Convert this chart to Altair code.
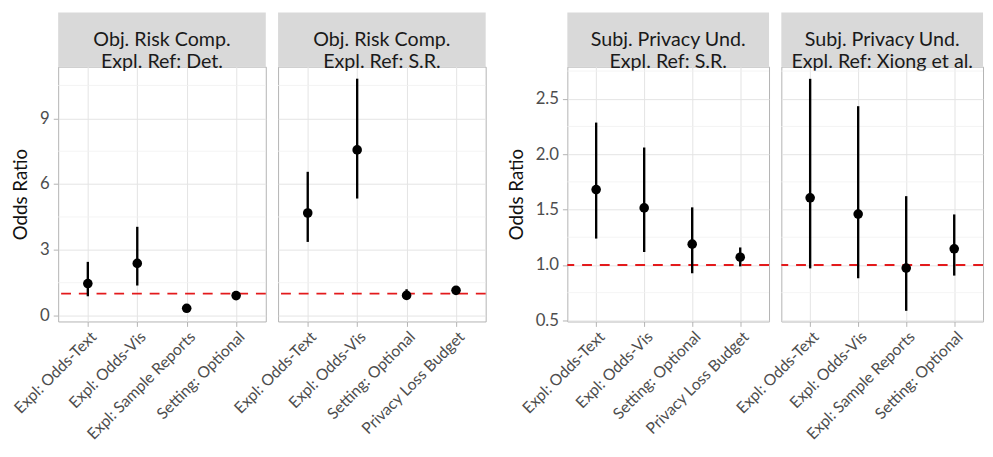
import altair as alt
import pandas as pd

FONT = "Lato"

# ---- data ----
titles = [
    ["Obj. Risk Comp.", "Expl. Ref: Det."],
    ["Obj. Risk Comp.", "Expl. Ref: S.R."],
    ["Subj. Privacy Und.", "Expl. Ref: S.R."],
    ["Subj. Privacy Und.", "Expl. Ref: Xiong et al."],
]

cats1 = ["Expl: Odds-Text", "Expl: Odds-Vis", "Expl: Sample Reports", "Setting: Optional"]
or1 = [1.46, 2.38, 0.33, 0.91]
lo1 = [0.88, 1.37, 0.25, 0.80]
hi1 = [2.45, 4.05, 0.43, 1.04]

cats2 = ["Expl: Odds-Text", "Expl: Odds-Vis", "Setting: Optional", "Privacy Loss Budget"]
or2 = [4.68, 7.56, 0.92, 1.15]
lo2 = [3.36, 5.34, 0.76, 1.06]
hi2 = [6.56, 10.81, 1.20, 1.25]

cats3 = ["Expl: Odds-Text", "Expl: Odds-Vis", "Setting: Optional", "Privacy Loss Budget"]
or3 = [1.68, 1.515, 1.188, 1.07]
lo3 = [1.238, 1.117, 0.925, 0.987]
hi3 = [2.285, 2.06, 1.52, 1.158]

cats4 = ["Expl: Odds-Text", "Expl: Odds-Vis", "Expl: Sample Reports", "Setting: Optional"]
or4 = [1.606, 1.459, 0.972, 1.146]
lo4 = [0.969, 0.88, 0.586, 0.904]
hi4 = [2.68, 2.433, 1.621, 1.456]

ref_line = [1.0]

left_domain = [-0.27, 11.36]
left_major = [0, 3, 6, 9]
left_minor = [1.5, 4.5, 7.5, 10.5]

right_domain = [0.49, 2.79]
right_major = [0.5, 1.0, 1.5, 2.0, 2.5]
right_minor = [0.75, 1.25, 1.75, 2.25, 2.75]

# ---- style ----
H = 259
HEADER_H = 55
GRID = "#e3e3e3"
MINOR = "#f1f1f1"
BORDER = "#b3b3b3"
LABEL = "#4d4d4d"


def panel(cats, orv, lo, hi, title, domain, major, minor, fmt, show_y, width):
    df = pd.DataFrame({"cat": cats, "or": orv, "lo": lo, "hi": hi})
    yscale = alt.Scale(domain=domain, nice=False, zero=False)
    if show_y:
        yaxis = alt.Axis(values=major, format=fmt, title="Odds Ratio", domain=False,
                         tickSize=5, tickColor=BORDER, labelPadding=4,
                         labelFontSize=17, labelColor=LABEL, labelFont=FONT,
                         titleFontSize=19, titleFont=FONT, titleFontWeight="normal",
                         titleColor="#111111", titlePadding=9,
                         grid=True, gridColor=GRID, gridWidth=1)
    else:
        yaxis = alt.Axis(values=major, title=None, domain=False, ticks=False, labels=False,
                         grid=True, gridColor=GRID, gridWidth=1)
    xaxis = alt.Axis(title=None, labelAngle=-45, domain=False, tickSize=5, tickColor=BORDER,
                     labelFontSize=16, labelColor=LABEL, labelFont=FONT, labelPadding=2,
                     grid=True, gridColor=GRID, gridWidth=1)
    xenc = alt.X("cat:N", sort=cats, scale=alt.Scale(type="point", padding=0.6), axis=xaxis)

    minor_layer = alt.Chart(pd.DataFrame({"or": minor})).mark_rule(
        color=MINOR, strokeWidth=0.8).encode(y=alt.Y("or:Q", scale=yscale, axis=yaxis))
    ref_layer = alt.Chart(pd.DataFrame({"or": ref_line})).mark_rule(
        color="#e31a1c", strokeWidth=2, strokeDash=[10, 8]).encode(
        y=alt.Y("or:Q", scale=yscale, axis=yaxis))
    bars = alt.Chart(df).mark_rule(color="black", strokeWidth=2.4).encode(
        x=xenc, y=alt.Y("lo:Q", scale=yscale, axis=yaxis), y2="hi:Q")
    pts = alt.Chart(df).mark_circle(color="black", opacity=1, size=95).encode(
        x=xenc, y=alt.Y("or:Q", scale=yscale, axis=yaxis))
    head_rect = alt.Chart(pd.DataFrame({"a": [0]})).mark_rect(color="#d9d9d9").encode(
        x=alt.value(0), x2=alt.value(width), y=alt.value(-HEADER_H), y2=alt.value(0))
    head_text = alt.Chart(pd.DataFrame({"a": [0]})).mark_text(
        text=title, lineHeight=22, align="center", baseline="middle",
        font=FONT, fontSize=20, color="#1a1a1a").encode(
        x=alt.value(width / 2), y=alt.value(-HEADER_H / 2 + 1))
    return alt.layer(head_rect, head_text, minor_layer, ref_layer, bars, pts).properties(
        width=width, height=H, view=alt.ViewBackground(stroke=BORDER, strokeWidth=1))


p1 = panel(cats1, or1, lo1, hi1, titles[0], left_domain, left_major, left_minor, "d", True, 211)
p2 = panel(cats2, or2, lo2, hi2, titles[1], left_domain, left_major, left_minor, "d", False, 211)
p3 = panel(cats3, or3, lo3, hi3, titles[2], right_domain, right_major, right_minor, ".1f", True, 205)
p4 = panel(cats4, or4, lo4, hi4, titles[3], right_domain, right_major, right_minor, ".1f", False, 205)

spacer = alt.Chart(pd.DataFrame({"a": [0]})).mark_point(opacity=0).encode(
    x=alt.value(0), y=alt.value(0)).properties(
    width=58, height=H, view=alt.ViewBackground(stroke=None))

chart = alt.hconcat(p1, p2, spacer, p3, p4, spacing=12.5, bounds="flush").properties(
    padding={"left": 2, "top": 0, "right": 0, "bottom": 0}
).configure(font=FONT).configure_view(stroke=BORDER)

chart.save("out.html", embed_options={"renderer": "svg", "actions": False})
